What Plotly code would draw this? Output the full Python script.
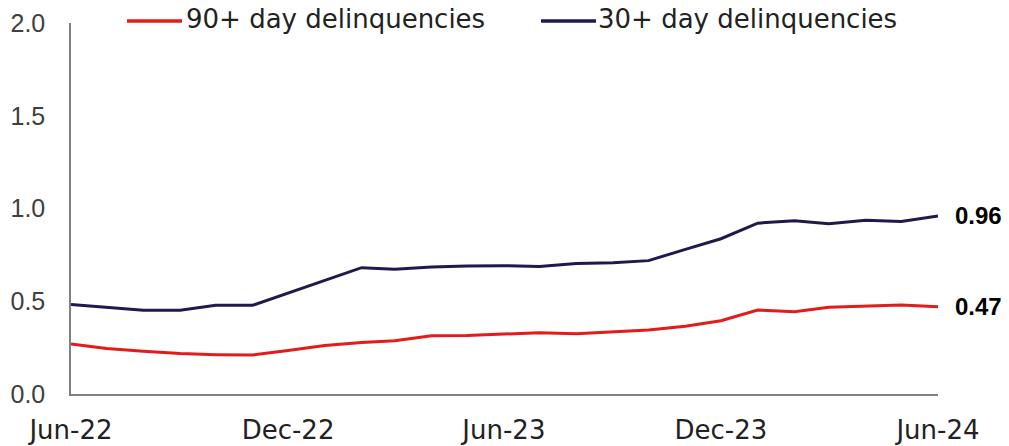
import plotly.graph_objects as go
import pandas as pd

months = pd.date_range("2022-06-01", "2024-06-01", freq="MS").strftime("%Y-%m-%d").tolist()

delinq_90 = [0.270, 0.245, 0.230, 0.218, 0.212, 0.210, 0.235, 0.262, 0.277, 0.287,
             0.314, 0.316, 0.323, 0.330, 0.325, 0.334, 0.345, 0.365, 0.395, 0.453,
             0.444, 0.468, 0.474, 0.480, 0.470]
delinq_30 = [0.483, 0.466, 0.451, 0.451, 0.478, 0.478, 0.545, 0.615, 0.681, 0.672,
             0.684, 0.690, 0.692, 0.687, 0.703, 0.708, 0.719, 0.780, 0.837, 0.921,
             0.934, 0.918, 0.937, 0.930, 0.960]

series_names = ["90+ day delinquencies", "30+ day delinquencies"]
end_labels = ["0.47", "0.96"]
x_tick_vals = ["2022-06-01", "2022-12-01", "2023-06-01", "2023-12-01", "2024-06-01"]
x_tick_text = ["Jun-22", "Dec-22", "Jun-23", "Dec-23", "Jun-24"]
y_tick_vals = [0.0, 0.5, 1.0, 1.5, 2.0]
y_tick_text = ["0.0", "0.5", "1.0", "1.5", "2.0"]

RED = "#E21B1B"
NAVY = "#1E1A4D"
colors = [RED, NAVY]

# plot area geometry (pixels) used to place the hand-drawn legend
W, H = 1009, 446
L, R, T, B = 71, 71, 23, 52
PW, PH = W - L - R, H - T - B


def px_x(px):
    return (px - L) / PW


def px_y(py):
    return (H - B - py) / PH


fig = go.Figure()
for name, vals, col in zip(series_names, [delinq_90, delinq_30], colors):
    fig.add_trace(go.Scatter(x=months, y=vals, mode="lines", name=name,
                             line=dict(color=col, width=3), showlegend=False))

for vals, lab in [(delinq_90, end_labels[0]), (delinq_30, end_labels[1])]:
    fig.add_annotation(x=months[-1], y=vals[-1], text="<b>%s</b>" % lab, showarrow=False,
                       xanchor="left", yanchor="middle", xshift=15,
                       font=dict(family="Liberation Sans, Arial", size=24, color="#000000"))

# legend (line sample + label) laid out as in the reference
legend_pos = [(127, 182, 184), (541, 596, 596)]
for (x0, x1, xt), name, col in zip(legend_pos, series_names, colors):
    fig.add_shape(type="line", xref="paper", yref="paper",
                  x0=px_x(x0), x1=px_x(x1), y0=px_y(21), y1=px_y(21),
                  line=dict(color=col, width=3.5))
    fig.add_annotation(xref="paper", yref="paper", x=px_x(xt), y=px_y(19.5),
                       text=name, showarrow=False, xanchor="left", yanchor="middle",
                       font=dict(family="DejaVu Sans", size=26, color="#222222"))

fig.update_layout(
    width=W, height=H,
    margin=dict(l=L, r=R, t=T, b=B, autoexpand=False),
    paper_bgcolor="white", plot_bgcolor="white",
    showlegend=False,
    xaxis=dict(range=[months[0], months[-1]], tickvals=x_tick_vals, ticktext=x_tick_text,
               showgrid=False, zeroline=False, showline=True, linecolor="#808080", linewidth=1.5,
               ticks="", ticklabelstandoff=12, automargin=False,
               tickfont=dict(family="DejaVu Sans", size=26, color="#222222")),
    yaxis=dict(range=[0, 2.0], tickvals=y_tick_vals, ticktext=y_tick_text,
               showgrid=False, zeroline=False, showline=True, linecolor="#808080", linewidth=1.5,
               ticks="", ticklabelstandoff=19, automargin=False,
               tickfont=dict(family="Liberation Sans, Arial", size=25, color="#404040")),
)

fig.write_html("out.html",
               config={"displayModeBar": False},
               post_script="document.body.style.margin='0';document.body.style.padding='0';"
                           "document.body.style.overflow='hidden';")
